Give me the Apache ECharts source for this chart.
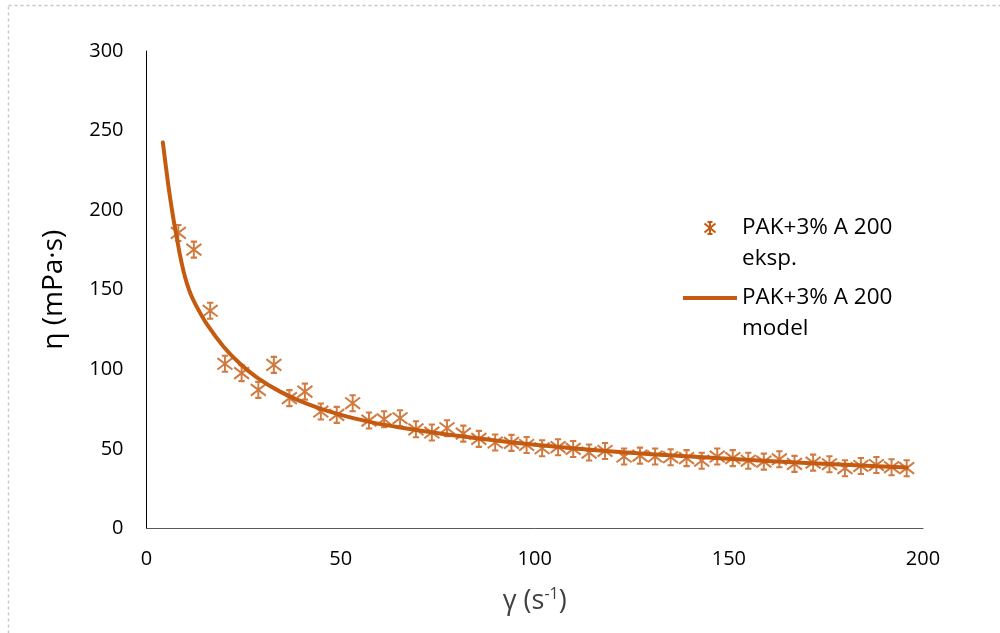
<!DOCTYPE html>
<html>
<head>
<meta charset="utf-8">
<script src="https://cdn.jsdelivr.net/npm/echarts@6/dist/echarts.min.js"></script>
<style>
html,body{margin:0;padding:0;background:#fff;}
#chart{width:1000px;height:633px;}
</style>
</head>
<body>
<div id="chart"></div>
<script>
// Experimental data (shear rate γ, viscosity η)
const expGamma = [8.2, 12.2, 16.4, 20.2, 24.5, 28.8, 32.8, 36.8, 40.8, 44.9, 49, 53.1, 57.3, 61.2, 65.3, 69.4, 73.5, 77.4, 81.6, 85.6, 89.8, 94, 97.9, 101.9, 106, 109.9, 114, 118.1, 123, 127.1, 131, 135, 139.1, 143, 147, 151, 155, 159, 163, 166.9, 171.7, 175.9, 179.9, 184, 188, 191.9, 195.8];
const expEta = [185.7, 175.2, 136.8, 103.5, 97.6, 87.1, 102.8, 81.9, 86.0, 73.5, 71.4, 78.7, 67.8, 68.6, 69.3, 62.3, 60.3, 63.0, 59.6, 56.3, 54.0, 53.8, 52.5, 50.4, 51.1, 50.0, 47.7, 48.7, 45.2, 45.8, 45.2, 44.8, 44.2, 42.6, 45.2, 44.2, 42.6, 42.0, 43.5, 40.6, 41.4, 40.4, 37.9, 39.3, 39.9, 38.5, 37.9];
// Model curve
const modelGamma = [4.2, 5.6, 6.9, 7.6, 8.6, 9.5, 10.4, 11.5, 12.9, 15.5, 19.8, 24.1, 28.4, 34.4, 41.2, 49.8, 58.4, 65.3, 80, 100, 120, 140, 160, 180, 195.8];
const modelEta = [242.6, 216, 195, 185.7, 172, 162, 154, 146.5, 139.5, 128.5, 114.4, 103.5, 95, 86, 78.5, 71.5, 66.5, 63.5, 58.3, 52.6, 48.4, 45.2, 42.4, 40.1, 38.3];
const xTicks = [0, 50, 100, 150, 200];
const yTicks = [0, 50, 100, 150, 200, 250, 300];
const seriesNames = ['PAK+3% A 200 eksp.', 'PAK+3% A 200 model'];
const legendLines = [['PAK+3% A 200', 'eksp.'], ['PAK+3% A 200', 'model']];

const COLOR = '#C55A11';
const FONT = '"Open Sans", Lato, "Liberation Sans", sans-serif';
const STAR = 'path://M0,-7L0,7M-6,-5L6,5M-6,5L6,-5M-2.5,-7L2.5,-7M-2.5,7L2.5,7';

function starGraphic(cx, cy) {
  const segs = [[0, -6, 0, 6], [-5.5, -4.5, 5.5, 4.5], [-5.5, 4.5, 5.5, -4.5], [-2.5, -6, 2.5, -6], [-2.5, 6, 2.5, 6]];
  return {
    type: 'group', x: cx, y: cy,
    children: segs.map(s => ({type: 'line', shape: {x1: s[0], y1: s[1], x2: s[2], y2: s[3]},
      style: {stroke: COLOR, lineWidth: 2}}))
  };
}

const chart = echarts.init(document.getElementById('chart'), null, {renderer: 'canvas'});
const option = {
  animation: false,
  backgroundColor: '#fff',
  grid: {left: 146.5, right: 77, top: 51, bottom: 104.5, containLabel: false},
  xAxis: {
    type: 'value', min: xTicks[0], max: xTicks[xTicks.length - 1], interval: 50,
    axisLine: {show: true, lineStyle: {color: '#595959', width: 1}},
    axisTick: {show: false},
    splitLine: {show: false},
    axisLabel: {color: '#000', fontSize: 20, fontFamily: FONT, margin: 21},
    name: '{g|γ (s}{sup|-1}{g|)}',
    nameLocation: 'middle', nameGap: 58,
    nameTextStyle: {
      rich: {
        g: {fontSize: 27, fontFamily: FONT, color: '#404040'},
        sup: {fontSize: 16, fontFamily: FONT, color: '#404040', verticalAlign: 'top', padding: [0, 0, 14, 0]}
      }
    }
  },
  yAxis: {
    type: 'value', min: yTicks[0], max: yTicks[yTicks.length - 1], interval: 50,
    axisLine: {show: true, lineStyle: {color: '#000', width: 1}},
    axisTick: {show: false},
    splitLine: {show: false},
    axisLabel: {color: '#000', fontSize: 20, fontFamily: FONT, margin: 23},
    name: 'η (mPa·s)',
    nameLocation: 'middle', nameGap: 78,
    nameTextStyle: {fontSize: 28, fontFamily: FONT, color: '#000'}
  },
  series: [
    {
      name: seriesNames[1], type: 'line', smooth: 0.3, showSymbol: false,
      data: modelGamma.map((g, i) => [g, modelEta[i]]),
      lineStyle: {color: COLOR, width: 4, cap: 'round', join: 'round'}, z: 2
    },
    {
      name: seriesNames[0], type: 'scatter', symbol: STAR, symbolSize: [15, 16],
      data: expGamma.map((g, i) => [g, expEta[i]]),
      itemStyle: {color: 'rgba(0,0,0,0)', borderColor: COLOR, borderWidth: 2}, z: 3
    }
  ],
  graphic: [
    {type: 'rect', silent: true, shape: {x: 8.5, y: 5.5, width: 1200, height: 800},
     style: {fill: 'none', stroke: '#c8c8c8', lineWidth: 1.5, lineDash: [3, 3]}},
    starGraphic(710, 228),
    {type: 'text', x: 742, y: 212, style: {text: legendLines[0].join('\n'), fill: '#000', font: '22.5px ' + FONT, lineHeight: 31}},
    {type: 'line', shape: {x1: 683, y1: 298, x2: 737, y2: 298}, style: {stroke: COLOR, lineWidth: 4}},
    {type: 'text', x: 742, y: 282, style: {text: legendLines[1].join('\n'), fill: '#000', font: '22.5px ' + FONT, lineHeight: 31}}
  ]
};
chart.setOption(option);
</script>
</body>
</html>
